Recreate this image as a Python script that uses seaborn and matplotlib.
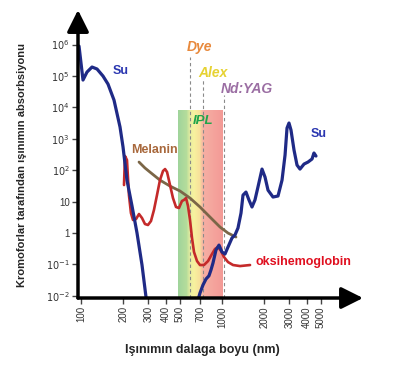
import numpy as np
import pandas as pd
import matplotlib
matplotlib.use("Agg")
import matplotlib.pyplot as plt
from matplotlib.colors import LinearSegmentedColormap
import seaborn as sns

# ---- data ----
su_uv_wl = [96.8, 103.3, 110.3, 119.7, 129.9, 143.2, 155.4, 171.4, 189.1, 198.6, 211.8, 230, 249.5, 270.8, 289, 303.6]
su_uv_abs = [8.9e5, 7.4e4, 1.33e5, 1.92e5, 1.66e5, 9.9e4, 5.5e4, 1.7e4, 2360, 545, 48, 7.2, 1.0, 0.095, 0.0091, 0.0025]

su_ir_wl = [675.6, 698, 733, 770, 808, 835, 863, 906, 952, 1000, 1050, 1103, 1177, 1236, 1298, 1364,
            1409, 1479, 1553, 1632, 1713, 1799, 1922, 2019, 2120, 2300, 2496, 2665, 2800, 2891, 2986,
            3085, 3241, 3404, 3574, 3818, 4076, 4350, 4490, 4640]
su_ir_abs = [0.0073, 0.0122, 0.022, 0.034, 0.043, 0.066, 0.110, 0.285, 0.41, 0.247, 0.213, 0.356, 0.69, 0.86, 1.43, 4.3,
             16, 20, 11.2, 6.7, 11.2, 29, 108, 60, 23, 13.9, 15, 48, 303, 2190, 3160,
             1890, 437, 145, 108, 156, 181, 226, 351, 281]

hb_wl = [201.8, 205, 211.8, 218.8, 226, 233.8, 245.6, 257.8, 270.8, 284.2, 298.5, 313.5, 329.2, 345.8, 363,
         381.6, 394.6, 407.6, 427.8, 449, 471.7, 495, 520, 537, 555.6, 573.9, 593, 612.6, 633, 665, 698,
         745, 796, 849, 891, 937, 984, 1033, 1103, 1197, 1342, 1581]
hb_abs = [33.5, 281, 210, 16, 4.3, 2.58, 2.77, 4.0, 2.98, 1.92, 1.79, 2.39, 5.4, 16, 48,
          94, 108, 87, 33.5, 12.9, 6.7, 6.2, 10.4, 11.2, 12.9, 7.2, 2.58, 0.69, 0.247, 0.127, 0.095,
          0.095, 0.127, 0.213, 0.307, 0.356, 0.265, 0.171, 0.118, 0.095, 0.088, 0.095]

mel_wl = [257.8, 284.2, 308, 363, 427.8, 503.5, 593, 698, 822, 968, 1103, 1256]
mel_abs = [181, 117, 87, 48, 31, 21.6, 12.9, 6.7, 3.2, 1.54, 0.99, 0.74]

lasers = ["Dye", "Alex", "Nd:YAG"]
laser_wl = [590, 735, 1035]
laser_top = [4.0e5, 8.5e4, 2.4e4]
ipl_range = [488, 1016]
ipl_top = 8200

x_ticks = [100, 200, 300, 400, 500, 700, 1000, 2000, 3000, 4000, 5000]
y_ticks = [1e-2, 1e-1, 1, 10, 1e2, 1e3, 1e4, 1e5, 1e6]
y_tick_labels = ["$10^{-2}$", "$10^{-1}$", "1", "10", "$10^{2}$", "$10^{3}$", "$10^{4}$", "$10^{5}$", "$10^{6}$"]

# ---- style ----
sns.set_style("white")
plt.rcParams["font.family"] = ["Liberation Sans", "DejaVu Sans"]

fig = plt.figure(figsize=(4.0, 3.78), dpi=100)
ax = fig.add_axes([0.195, 0.2116, 0.7125, 0.7619])
ax.set_xscale("log")
ax.set_yscale("log")
ymin = 10 ** -2.073
ax.set_xlim(95.2, 10000)
ax.set_ylim(ymin, 10 ** 7.099)

# IPL gradient band
cmap = LinearSegmentedColormap.from_list(
    "ipl", [(0.0, "#a0d49b"), (0.18, "#b4dc9b"), (0.27, "#e8eea0"), (0.35, "#f7f19e"),
            (0.47, "#f7e29b"), (0.56, "#f5aea3"), (1.0, "#f39a96")])
lo, hi = np.log10(ipl_range[0]), np.log10(ipl_range[1])
n = 90
edges = np.logspace(lo, hi, n + 1)
for i in range(n):
    ax.fill_between([edges[i], edges[i + 1]], ymin, ipl_top,
                    color=cmap((i + 0.5) / n), lw=0, zorder=1)

# laser dashed lines
for wl, top in zip(laser_wl, laser_top):
    ax.plot([wl, wl], [ymin, top], ls=(0, (3, 2.5)), color="#8a8a8a", lw=0.8, zorder=2)

# curves
df_uv = pd.DataFrame({"wl": su_uv_wl, "abs": su_uv_abs})
df_ir = pd.DataFrame({"wl": su_ir_wl, "abs": su_ir_abs})
df_hb = pd.DataFrame({"wl": hb_wl, "abs": hb_abs})
df_mel = pd.DataFrame({"wl": mel_wl, "abs": mel_abs})

sns.lineplot(data=df_mel, x="wl", y="abs", ax=ax, color="#7b6647", lw=2.0, sort=False, zorder=3)
sns.lineplot(data=df_hb, x="wl", y="abs", ax=ax, color="#c42a2a", lw=1.9, sort=False, zorder=4)
sns.lineplot(data=df_uv, x="wl", y="abs", ax=ax, color="#1f2a86", lw=2.3, sort=False, zorder=5)
sns.lineplot(data=df_ir, x="wl", y="abs", ax=ax, color="#1f2a86", lw=2.3, sort=False, zorder=5)

ax.set_xlim(95.2, 10000)
ax.set_ylim(ymin, 10 ** 7.099)

# labels inside
tk = dict(fontweight="bold", ha="center", va="center", zorder=6)
ax.text(698, 8.3e5, "Dye", color="#e8893c", fontsize=10, style="italic", **tk)
ax.text(863, 1.23e5, "Alex", color="#e6d232", fontsize=10, style="italic", **tk)
ax.text(1503, 3.8e4, "Nd:YAG", color="#9b6ea3", fontsize=10, style="italic", **tk)
ax.text(733, 3640, "IPL", color="#1fa54a", fontsize=9.5, style="italic", **tk)
ax.text(192, 1.43e5, "Su", color="#2a36b0", fontsize=9, **tk)
ax.text(4877, 1410, "Su", color="#2a36b0", fontsize=9, **tk)
ax.text(330, 437, "Melanin", color="#a8683c", fontsize=9, **tk)
ax.text(1742, 0.118, "oksihemoglobin", color="#e01020", fontsize=9,
        fontweight="bold", ha="left", va="center", zorder=6)

# axes: arrows instead of spines
for s in ax.spines.values():
    s.set_visible(False)
arrow = dict(arrowstyle="-|>,head_length=0.6,head_width=0.3", color="k", lw=2.5,
             mutation_scale=22, shrinkA=0, shrinkB=0)
ax.annotate("", xy=(1, 0), xytext=(0, 0), xycoords="axes fraction", arrowprops=arrow, zorder=7)
ax.annotate("", xy=(0, 1), xytext=(0, 0), xycoords="axes fraction", arrowprops=arrow, zorder=7)

ax.set_xticks(x_ticks)
ax.set_xticklabels([str(t) for t in x_ticks], rotation=90)
ax.set_yticks(y_ticks)
ax.set_yticklabels(y_tick_labels)
ax.xaxis.set_minor_locator(matplotlib.ticker.NullLocator())
ax.yaxis.set_minor_locator(matplotlib.ticker.NullLocator())
ax.tick_params(axis="both", which="major", length=4, width=1, color="#444444",
               labelsize=7, labelcolor="#333333", pad=2, direction="out",
               bottom=True, left=True)
ax.set_xlabel("")
ax.set_ylabel("")

fig.text(0.505, 1 - 350 / 378, "Işınımın dalaga boyu (nm)", ha="center", va="center",
         fontsize=9, fontweight="bold")
fig.text(0.055, 1 - 165 / 378, "Kromoforlar tarafından ışınımın absorbsiyonu", ha="center",
         va="center", rotation=90, fontsize=8, fontweight="bold")

fig.savefig("out.png", dpi=100)
